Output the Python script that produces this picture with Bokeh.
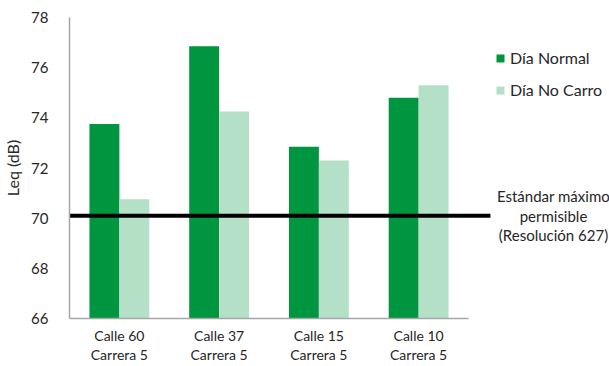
from bokeh.plotting import figure
from bokeh.models import (Range1d, FixedTicker, ColumnDataSource, Legend, LegendItem, Label)
from bokeh.embed import file_html
from bokeh.resources import INLINE

categories = ["Calle 60\nCarrera 5", "Calle 37\nCarrera 5", "Calle 15\nCarrera 5", "Calle 10\nCarrera 5"]
series_names = ["Día Normal", "Día No Carro"]
dia_normal = [73.75, 76.85, 72.85, 74.8]
dia_no_carro = [70.75, 74.25, 72.3, 75.3]
estandar = 70.1
estandar_text = "Estándar máximo\npermisible\n(Resolución 627)"
y_ticks = [66, 68, 70, 72, 74, 76, 78]

DARK = "#009640"
LIGHT = "#b5e0c8"
AXIS = "#a6a6a6"
FONT = "Lato"
TXT = "#262626"

n = len(categories)
centers = [i + 0.5 for i in range(n)]
src = ColumnDataSource(dict(
    x1=[c - 0.15 for c in centers],
    x2=[c + 0.15 for c in centers],
    normal=dia_normal,
    nocarro=dia_no_carro,
))

W, H = 609, 366
LEFT, TOP, BOTTOM = 69, 17, 48
frame_w = W - LEFT
px_per_cat = 99.75
x_end = frame_w / px_per_cat

p = figure(width=W, height=H, output_backend="svg", toolbar_location=None,
           x_range=Range1d(0, x_end), y_range=Range1d(66, 78),
           min_border_left=LEFT, min_border_right=0, min_border_top=TOP, min_border_bottom=BOTTOM)
p.outline_line_color = None
p.grid.visible = False
p.background_fill_color = "white"
p.border_fill_color = "white"

r1 = p.vbar(x="x1", top="normal", bottom=66, width=0.3, source=src, fill_color=DARK, line_color=None)
r2 = p.vbar(x="x2", top="nocarro", bottom=66, width=0.3, source=src, fill_color=LIGHT, line_color=None)

# standard line, extends a bit past the last category
p.segment(x0=[0], x1=[n + 0.22], y0=[estandar], y1=[estandar], line_color="black", line_width=4)

lbl = Label(x=484, x_units="screen", y=estandar, y_units="data", text=estandar_text,
            text_align="center", text_baseline="middle", text_font=FONT,
            text_font_size="15px", text_color=TXT, text_line_height=1.1)
p.add_layout(lbl)

# axes
p.yaxis.ticker = FixedTicker(ticks=y_ticks)
p.yaxis.bounds = (66, 78)
p.yaxis.axis_line_color = AXIS
p.yaxis.axis_line_width = 1.5
p.yaxis.major_tick_line_color = None
p.yaxis.minor_tick_line_color = None
p.yaxis.major_label_standoff = 15
p.yaxis.major_label_text_font = FONT
p.yaxis.major_label_text_font_size = "15px"
p.yaxis.major_label_text_color = TXT
p.yaxis.axis_label = "Leq (dB)"
p.yaxis.axis_label_text_font = FONT
p.yaxis.axis_label_text_font_size = "16px"
p.yaxis.axis_label_text_font_style = "normal"
p.yaxis.axis_label_text_color = TXT
p.yaxis.axis_label_standoff = 6

p.xaxis.ticker = FixedTicker(ticks=centers)
p.xaxis.major_label_overrides = {c: lab for c, lab in zip(centers, categories)}
p.xaxis.bounds = (0, n)
p.xaxis.axis_line_color = AXIS
p.xaxis.axis_line_width = 1.5
p.xaxis.major_tick_line_color = None
p.xaxis.minor_tick_line_color = None
p.xaxis.major_label_standoff = 2
p.xaxis.major_label_text_font = FONT
p.xaxis.major_label_text_font_size = "14px"
p.xaxis.major_label_text_color = TXT
p.xaxis.major_label_text_line_height = 1.15

legend = Legend(items=[LegendItem(label=series_names[0], renderers=[r1]),
                       LegendItem(label=series_names[1], renderers=[r2])],
                location=(426, 219), orientation="vertical",
                glyph_width=10, glyph_height=10, label_standoff=5, spacing=13,
                padding=0, margin=0, border_line_color=None, background_fill_alpha=0,
                label_text_font=FONT, label_text_font_size="16px", label_text_color=TXT)
p.add_layout(legend)

open("out.html", "w").write(file_html(p, INLINE))
